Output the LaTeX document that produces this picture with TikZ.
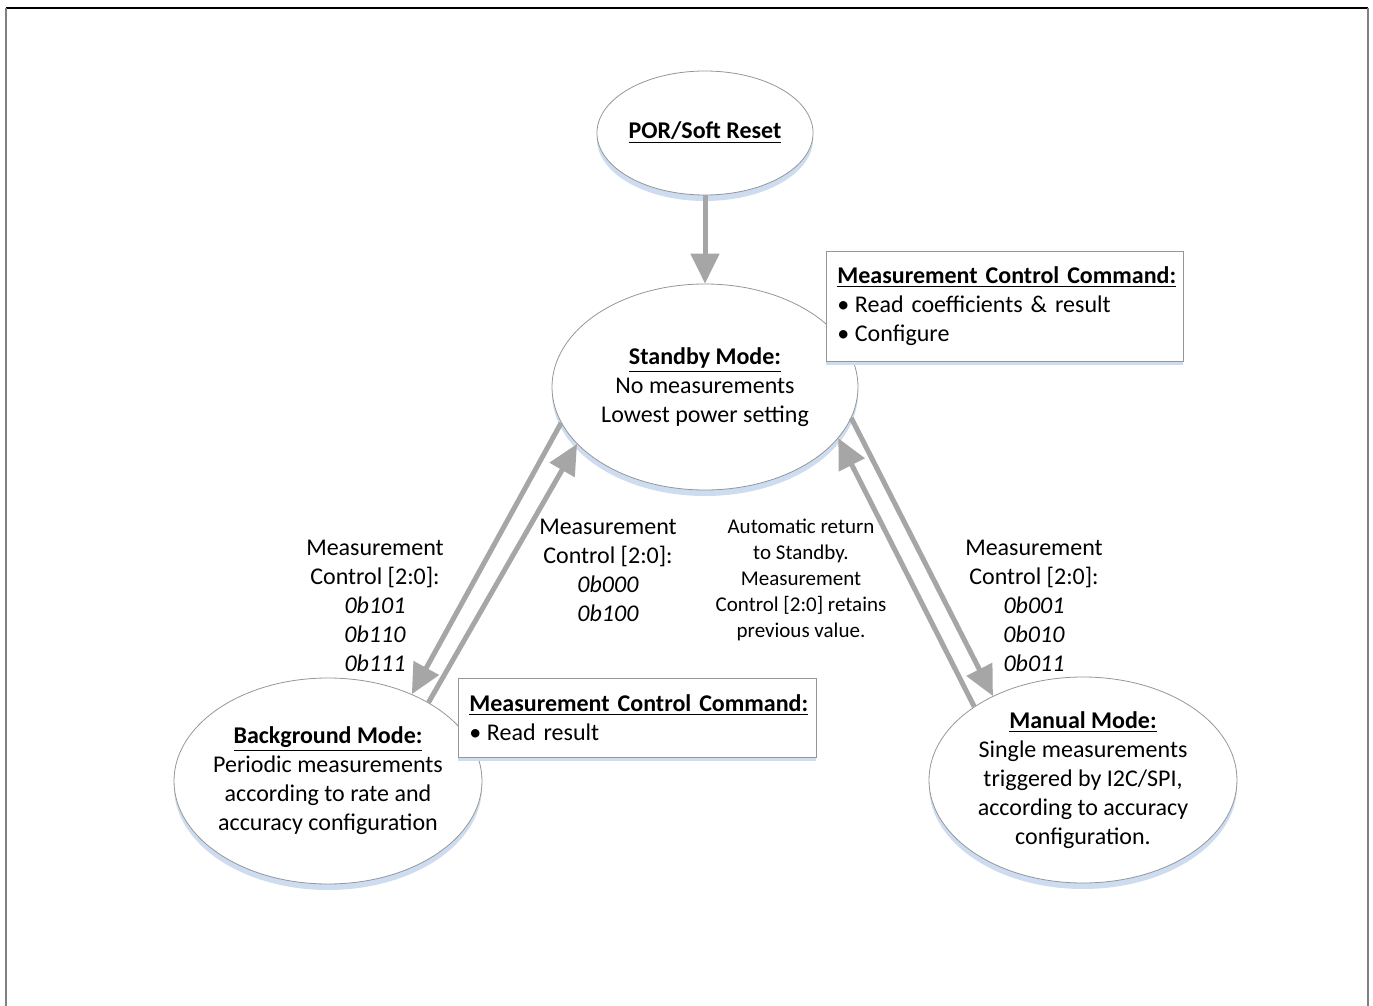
\documentclass[tikz,border=0pt]{standalone}
\usepackage{fontspec}
\setmainfont{Carlito}
\usepackage{tikz}
\usetikzlibrary{shapes,shadows,arrows.meta}
\definecolor{arrowgray}{RGB}{166,166,166}
\definecolor{linegray}{RGB}{150,150,150}
\definecolor{shadowblue}{RGB}{205,220,240}
\def\mainsize{\fontsize{12}{14.5}\selectfont}
\def\smallsize{\fontsize{10.5}{12.9}\selectfont}
\def\hd#1{\underline{\textbf{#1}}}
\def\bul{•\hspace{-1.2pt} }
\tikzset{
  state/.style={ellipse, draw=linegray, fill=white, inner sep=0pt, align=center, font=\mainsize,
    drop shadow={shadow xshift=0pt, shadow yshift=-3pt, fill=shadowblue, opacity=1}},
  cmdbox/.style={rectangle, draw=linegray, fill=white, inner xsep=5.5pt, inner ysep=0pt,
    align=left, font=\mainsize, anchor=north west,
    drop shadow={shadow xshift=0pt, shadow yshift=-2pt, fill=shadowblue, opacity=1}},
  flow/.style={arrowgray, line width=2.5pt, -{Triangle[length=15pt,width=14pt]}},
  cond/.style={align=center, font=\mainsize}
}

\begin{document}
\begin{tikzpicture}[x=0.5pt, y=-0.5pt]
	\useasboundingbox (0,0) rectangle (1373,1006);
	\draw[black, line width=1pt] (6,8) -- (1368,8);
	\draw[gray, line width=1pt] (6,8) -- (6,1006) (1368,8) -- (1368,1006);

	\node[state, minimum width=108pt, minimum height=62pt] (por) at (705,133) {\hd{POR/Soft Reset}};
	\node[state, minimum width=153pt, minimum height=103pt] (stby) at (705,387)
	    {\hd{Standby Mode:}\\No measurements\\Lowest power setting};
	\node[state, inner xsep=-7pt, minimum width=154pt, minimum height=103pt] (bg) at (328,781)
	    {\hd{Background Mode:}\\Periodic measurements\\according to rate and\\accuracy configuration};
	\node[state, minimum width=154pt, minimum height=103pt] (man) at (1083,780)
	    {\hd{Manual Mode:}\\Single measurements\\triggered by I2C/SPI,\\according to accuracy\\configuration.};

	\draw[flow] (por.south) -- (stby.north);
	\draw[flow] (stby.194) -- (bg.46);
	\draw[flow] (bg.38) -- (stby.204);
	\draw[flow] (stby.348) -- (man.137);
	\draw[flow] (man.146) -- (stby.339);

	\node[cmdbox, minimum height=55pt, text width=167.5pt] (cmdstby) at (826,251)
	    {\hd{Measurement Control Command:}\\\bul Read coefficients \& result\\\bul Configure};
	\node[cmdbox, minimum height=39.5pt, text width=168pt] (cmdbg) at (458,678)
	    {\hd{Measurement Control Command:}\\\bul Read result};

	\node[cond] (lblbg) at (375,606)
	    {Measurement\\Control [2:0]:\\\textit{0b101}\\\textit{0b110}\\\textit{0b111}};
	\node[cond] (lblstby) at (608,570)
	    {Measurement\\Control [2:0]:\\\textit{0b000}\\\textit{0b100}};
	\node[cond, font=\smallsize] (lblret) at (801,580)
	    {Automatic return\\to Standby.\\Measurement\\Control [2:0] retains\\previous value.};
	\node[cond] (lblman) at (1034,606)
	    {Measurement\\Control [2:0]:\\\textit{0b001}\\\textit{0b010}\\\textit{0b011}};
\end{tikzpicture}
\end{document}
